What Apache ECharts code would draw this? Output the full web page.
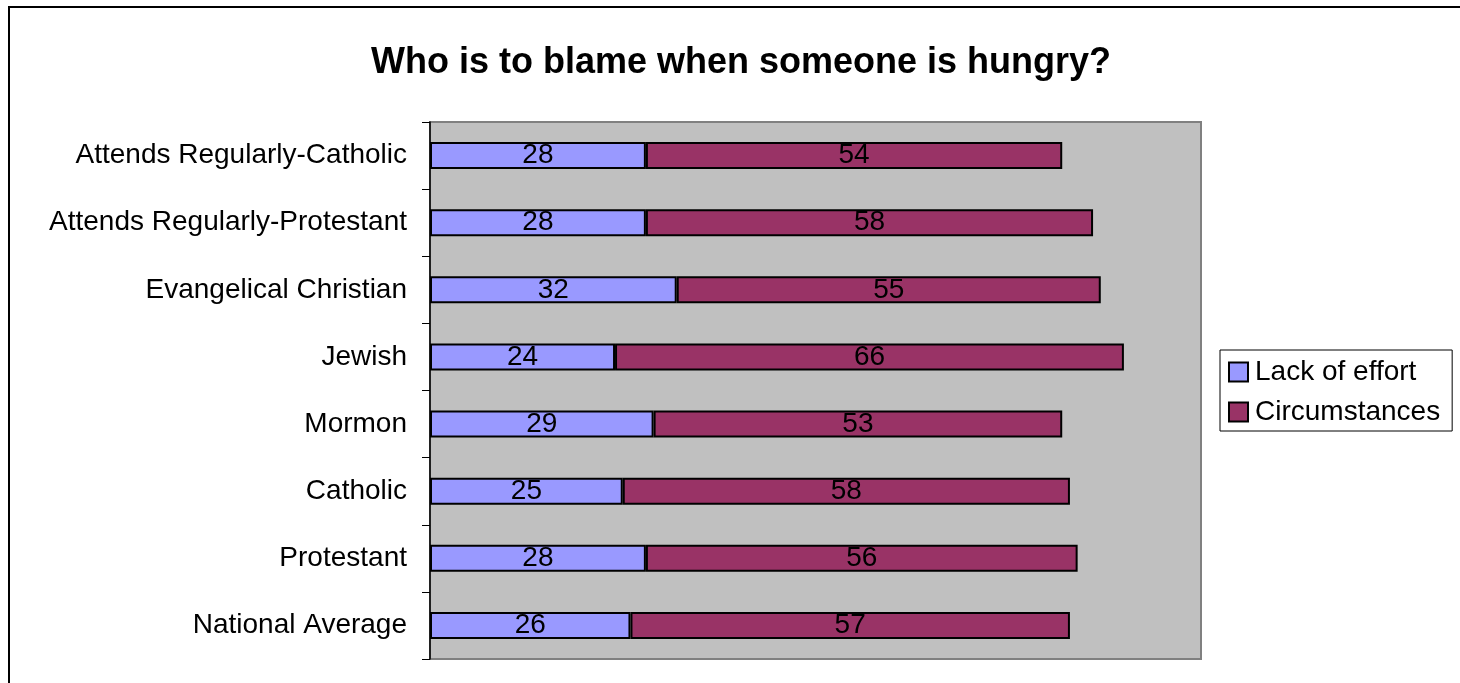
<!DOCTYPE html>
<html>
<head>
<meta charset="utf-8">
<script src="https://cdn.jsdelivr.net/npm/echarts@6/dist/echarts.min.js"></script>
<style>
html,body{margin:0;padding:0;background:#fff;}
#chart{width:1460px;height:683px;}
</style>
</head>
<body>
<div id="chart"></div>
<script>
const categories = ["Attends Regularly-Catholic","Attends Regularly-Protestant","Evangelical Christian","Jewish","Mormon","Catholic","Protestant","National Average"];
const lackOfEffort = [28,28,32,24,29,25,28,26];
const circumstances = [54,58,55,66,53,58,56,57];
const seriesNames = ["Lack of effort","Circumstances"];
const titleText = "Who is to blame when someone is hungry?";

const font = "Liberation Sans, Arial, Helvetica, sans-serif";
const chart = echarts.init(document.getElementById('chart'));
const labelCfg = {show:true, position:'inside', color:'#000', fontSize:28, fontFamily:font, padding:[3,0,0,0]};
chart.setOption({
  animation:false,
  graphic:[{type:'polyline', shape:{points:[[9,700],[9,7],[1470,7]]}, style:{stroke:'#000', lineWidth:2, fill:null}, silent:true}],
  title:{text:titleText, left:736, textAlign:'center', top:40, textStyle:{fontSize:36, fontWeight:'bold', color:'#000', fontFamily:font}},
  legend:{orient:'vertical', left:1220, top:350, padding:[7,12,4,8], itemGap:10, itemWidth:19, itemHeight:19,
    borderColor:'#000', borderWidth:1, icon:'rect',
    textStyle:{fontSize:28, color:'#000', fontFamily:font, lineHeight:30, padding:[0,0,0,2]},
    data:seriesNames},
  grid:{left:430, top:122, width:771, height:537, show:true, backgroundColor:'#C0C0C0', borderColor:'#808080', borderWidth:2},
  xAxis:{type:'value', min:0, max:100, show:false},
  yAxis:{type:'category', data:categories, inverse:true,
    axisLine:{lineStyle:{color:'#000', width:1.5}},
    axisTick:{show:true, length:8, lineStyle:{color:'#000'}},
    axisLabel:{fontSize:28, color:'#000', fontFamily:font, margin:23}},
  series:[
    {name:seriesNames[0], type:'bar', stack:'a', data:lackOfEffort, barWidth:27,
     itemStyle:{color:'#9999FF', borderColor:'#000', borderWidth:2}, label:labelCfg},
    {name:seriesNames[1], type:'bar', stack:'a', data:circumstances, barWidth:27,
     itemStyle:{color:'#993366', borderColor:'#000', borderWidth:2}, label:labelCfg}
  ]
});
</script>
</body>
</html>
